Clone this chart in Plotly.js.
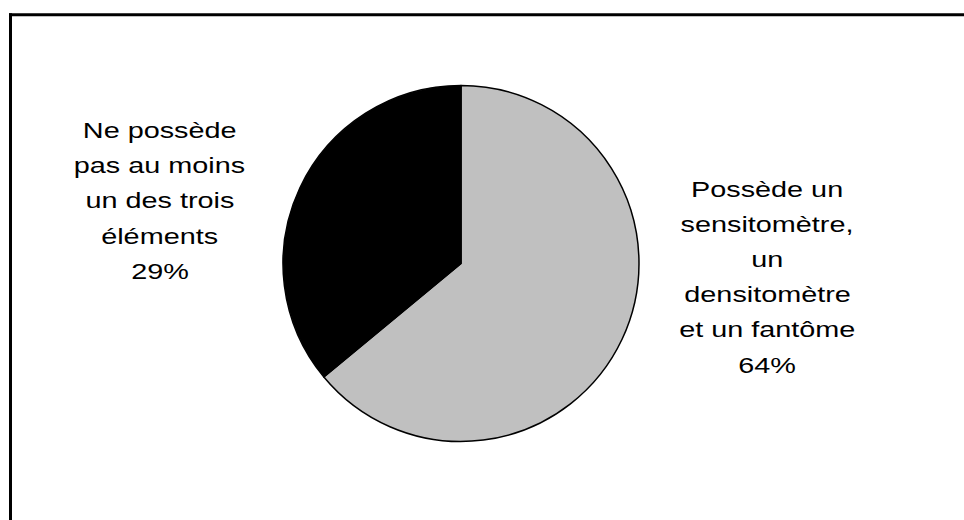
<!DOCTYPE html>
<html>
<head>
<meta charset="utf-8">
<script src="https://cdn.plot.ly/plotly-3.0.1.min.js"></script>
<style>html,body{margin:0;padding:0;background:#fff;}#chart{width:964px;height:520px;}</style>
</head>
<body>
<div id="chart"></div>
<script>
// ---- data ----
const sliceLabels = [
  'Possède un sensitomètre, un densitomètre et un fantôme',
  'Ne possède pas au moins un des trois éléments'
];
const sliceValues = [64, 36];
const slicePercentText = ['64%', '29%'];
const labelLinesGrey = ['Possède un', 'sensitomètre,', 'un', 'densitomètre', 'et un fantôme'];
const labelLinesBlack = ['Ne possède', 'pas au moins', 'un des trois', 'éléments'];
const sliceColors = ['#C0C0C0', '#000000'];

// ---- layout helpers ----
const W = 964, H = 520;
const px = x => x / W;
const py = y => 1 - y / H;
const FONT = {family: 'Liberation Sans, Arial, sans-serif', size: 22, color: '#000'};

function labelAnnotations(lines, pct, cx, firstBaseline, step) {
  const all = lines.concat([pct]);
  return all.map((t, i) => ({
    text: t, showarrow: false, xref: 'paper', yref: 'paper',
    x: px(cx), y: py(firstBaseline + step * i - 7),
    xanchor: 'center', yanchor: 'middle', font: FONT
  }));
}

const annotations = []
  .concat(labelAnnotations(labelLinesBlack, slicePercentText[1], 159.5, 137, 35.4))
  .concat(labelAnnotations(labelLinesGrey, slicePercentText[0], 767, 196, 35.2));

const cx = 461, cy = 263.5, r = 178;
const trace = {
  type: 'pie',
  labels: sliceLabels,
  values: sliceValues,
  sort: false,
  direction: 'clockwise',
  rotation: 0,
  textinfo: 'none',
  hoverinfo: 'none',
  showlegend: false,
  marker: {colors: sliceColors, line: {color: '#000', width: 1.5}},
  domain: {x: [px(cx - r), px(cx + r)], y: [py(cy + r), py(cy - r)]}
};

const layout = {
  width: W, height: H,
  margin: {l: 0, r: 0, t: 0, b: 0},
  paper_bgcolor: '#fff', plot_bgcolor: '#fff',
  showlegend: false,
  annotations: annotations,
  shapes: [
    {type: 'line', xref: 'paper', yref: 'paper', x0: px(9), x1: 1.05, y0: py(14.7), y1: py(14.7), line: {color: '#000', width: 3}},
    {type: 'line', xref: 'paper', yref: 'paper', x0: px(10.5), x1: px(10.5), y0: py(13.2), y1: -0.05, line: {color: '#000', width: 3}}
  ]
};

Plotly.newPlot('chart', [trace], layout, {staticPlot: true, displayModeBar: false}).then(() => {
  // mimic the horizontally stretched lettering of the original
  document.querySelectorAll('text.annotation-text').forEach(t => {
    const x = parseFloat(t.getAttribute('x')) || 0;
    t.setAttribute('transform', `translate(${x},0) scale(1.31,1) translate(${-x},0)`);
  });
});
</script>
</body>
</html>
